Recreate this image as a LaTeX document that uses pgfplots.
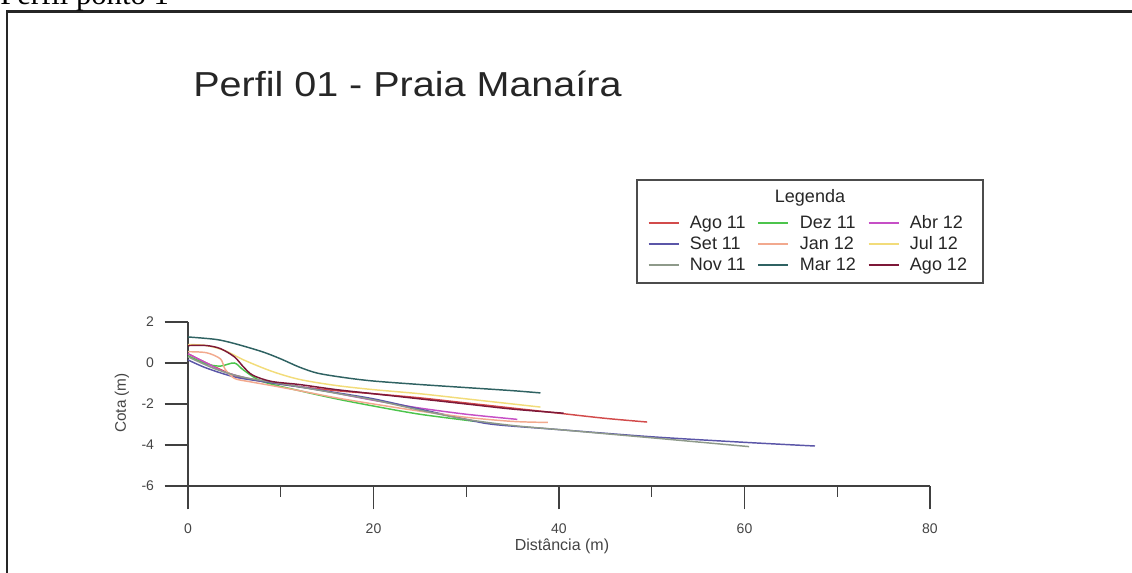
\documentclass[border=0pt]{standalone}
\usepackage{pgfplots}
\pgfplotsset{compat=1.18}
\usepackage{fontspec}
\setmainfont{Liberation Sans}
\newfontfamily\seriffont{Liberation Serif}
\definecolor{cAgoA}{HTML}{D24B4B}
\definecolor{cSet}{HTML}{5B56A8}
\definecolor{cNov}{HTML}{8E9A8A}
\definecolor{cDez}{HTML}{4CC44C}
\definecolor{cJan}{HTML}{F2A98E}
\definecolor{cMar}{HTML}{2F6262}
\definecolor{cAbr}{HTML}{C64FC6}
\definecolor{cJul}{HTML}{F2DC7A}
\definecolor{cAgoB}{HTML}{7D1838}
\definecolor{txt}{HTML}{444444}
\begin{document}
\begin{tikzpicture}[x=0.75pt,y=0.75pt]
\useasboundingbox (0,0) rectangle (1132,573);
\clip (0,0) rectangle (1132,573);
\draw[line width=1.6pt, black!85] (7,561.5) rectangle (1150,-20);
\node[font=\seriffont\fontsize{23}{25}\selectfont, anchor=base west, inner sep=0] at (0,568) {Perfil ponto 1};
\node[anchor=base west, inner sep=0, font=\fontsize{26}{30}\selectfont, text=black!85, xscale=1.14] at (193,476.5) {Perfil 01 - Praia Manaíra};
\begin{axis}[at={(141pt,157.5pt)}, anchor=origin, scale only axis,
  width=556.5pt, height=123pt,
  xmin=0, xmax=80, ymin=-6, ymax=2,
  axis x line*=bottom, axis y line*=left,
  axis line style={-, black!75, line width=0.9pt},
  every tick/.style={black!75, line width=0.9pt},
  xtick={0,20,...,80}, minor xtick={10,30,50,70}, ytick={-6,-4,...,2},
  tick align=outside, major tick length=17.5pt, minor tick length=8.25pt,
  tick label style={font=\fontsize{10.5}{12}\selectfont, text=txt},
  /pgf/number format/assume math mode=true,
  xticklabel style={yshift=-7pt},
  yticklabel style={xshift=-4.5pt},
  clip=false,
  legend columns=3,
  legend style={at={(rel axis cs:0.614,1.683)}, anchor=north west, draw=none, fill=none,
    font=\fontsize{13.5}{16}\selectfont, text=black!85, row sep=0.5pt,
    /tikz/every odd column/.append style={column sep=6pt},
    /tikz/every even column/.append style={column sep=7pt}},
  legend cell align=left,
  legend image code/.code={\draw[#1, line width=1.1pt] (0pt,0pt) -- (22.5pt,0pt);},
  every axis plot/.append style={line width=1.1pt, smooth, no markers}
]
\addplot[cAgoA] coordinates {(0,0.45) (2,0.0) (5,-0.6) (8,-0.9) (12,-1.15) (16,-1.35) (20,-1.5) (25,-1.7) (30,-1.95) (35,-2.2) (40,-2.45) (45,-2.7) (49.5,-2.88)};
\addlegendentry{Ago 11}
\addplot[cDez] coordinates {(0,0.35) (2,-0.05) (3.5,-0.15) (5,0.0) (6,-0.35) (8,-0.9) (12,-1.35) (16,-1.75) (20,-2.1) (25,-2.5) (31,-2.85)};
\addlegendentry{Dez 11}
\addplot[cAbr] coordinates {(0,0.45) (2,0.0) (4,-0.45) (7,-0.8) (10,-1.0) (14,-1.3) (18,-1.65) (21,-1.9) (25,-2.2) (30,-2.5) (35.5,-2.75)};
\addlegendentry{Abr 12}
\addplot[cSet] coordinates {(0,0.15) (2,-0.25) (5,-0.68) (8,-0.9) (12,-1.17) (16,-1.45) (20,-1.75) (25,-2.25) (30,-2.75) (33,-3.0) (40,-3.25) (50,-3.6) (60,-3.87) (67.6,-4.05)};
\addlegendentry{Set 11}
\addplot[cJan] coordinates {(0,0.55) (2,0.5) (3.5,0.2) (4,-0.3) (5,-0.75) (6.5,-0.9) (9,-1.1) (12,-1.35) (16,-1.7) (20,-2.0) (25,-2.35) (30,-2.65) (35,-2.85) (38.8,-2.9)};
\addlegendentry{Jan 12}
\addplot[cJul] coordinates {(0,0.9) (2,0.85) (4,0.6) (6,0.15) (9,-0.4) (12,-0.8) (16,-1.1) (20,-1.3) (25,-1.5) (30,-1.75) (35,-2.0) (38,-2.15)};
\addlegendentry{Jul 12}
\addplot[cNov] coordinates {(0,0.3) (3,-0.3) (6,-0.7) (10,-1.0) (15,-1.4) (20,-1.8) (25,-2.3) (30,-2.75) (35,-3.05) (40,-3.25) (50,-3.65) (60.5,-4.08)};
\addlegendentry{Nov 11}
\addplot[cMar] coordinates {(0,1.27) (3,1.15) (5,0.95) (8,0.55) (10,0.2) (12,-0.2) (14,-0.5) (17,-0.72) (20,-0.88) (25,-1.05) (30,-1.2) (35,-1.35) (38,-1.46)};
\addlegendentry{Mar 12}
\addplot[cAgoB] coordinates {(0,0.85) (2,0.85) (3.5,0.7) (5,0.3) (6,-0.2) (7,-0.6) (9,-0.9) (12,-1.05) (16,-1.3) (20,-1.5) (25,-1.75) (30,-2.0) (35,-2.25) (40.5,-2.45)};
\addlegendentry{Ago 12}
\end{axis}
\draw[black!70, line width=0.9pt] (637,393) rectangle (983,290);
\node[anchor=base, inner sep=0, font=\fontsize{13.5}{16}\selectfont, text=black!85] at (810,370) {Legenda};
\node[font=\fontsize{11.5}{14}\selectfont, text=txt, rotate=90] at (122,170) {Cota (m)};
\node[font=\fontsize{12}{14}\selectfont, text=txt] at (562,27) {Distância (m)};
\end{tikzpicture}
\end{document}
